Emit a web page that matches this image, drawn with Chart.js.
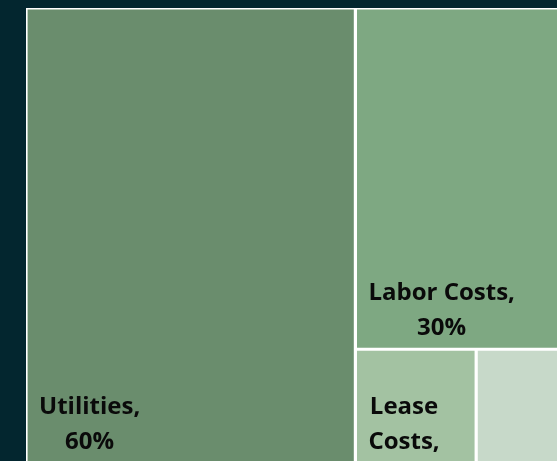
<!DOCTYPE html>
<html>
<head>
<meta charset="utf-8">
<script src="https://cdn.jsdelivr.net/npm/chart.js@4/dist/chart.umd.min.js"></script>
<style>
  html, body { margin: 0; padding: 0; overflow: hidden; background: #03262f; }
  #wrap { position: absolute; left: 0; top: 0; width: 575px; height: 463px; }
</style>
</head>
<body>
<div id="wrap"><canvas id="chart"></canvas></div>
<script>
// data
const categories = ['Utilities', 'Labor Costs', 'Lease Costs', 'Maintenance'];
const shares = [60, 30, 5.5, 4.5];
const shareLabels = shares.map(v => Math.round(v) + '%');

// squarified layout in value units (0..100 on both axes), k = pixel aspect w/h
function squarify(values, k) {
  const total = values.reduce((a, b) => a + b, 0);
  let rect = { x: 0, y: 0, w: 100 * k, h: 100 };
  const area = rect.w * rect.h;
  const items = values.map((v, i) => ({ i, a: v / total * area }));
  const out = [];
  const worst = (row, side) => {
    const s = row.reduce((a, r) => a + r.a, 0);
    const t = s / side;
    let m = 0;
    row.forEach(r => { const l = r.a / t; m = Math.max(m, t / l, l / t); });
    return m;
  };
  const layRow = (row) => {
    const s = row.reduce((a, r) => a + r.a, 0);
    if (rect.w >= rect.h) {
      const t = s / rect.h; let y = rect.y;
      row.forEach(r => { const h = r.a / t; out[r.i] = { x: rect.x, y, w: t, h }; y += h; });
      rect = { x: rect.x + t, y: rect.y, w: rect.w - t, h: rect.h };
    } else {
      const t = s / rect.w; let x = rect.x;
      row.forEach(r => { const w = r.a / t; out[r.i] = { x, y: rect.y, w, h: t }; x += w; });
      rect = { x: rect.x, y: rect.y + t, w: rect.w, h: rect.h - t };
    }
  };
  let row = [], n = 0;
  while (n < items.length) {
    const side = Math.min(rect.w, rect.h);
    if (!row.length || worst(row.concat(items[n]), side) <= worst(row, side)) { row.push(items[n]); n++; }
    else { layRow(row); row = []; }
  }
  if (row.length) layRow(row);
  return out.map(c => ({ x: c.x / k, y: c.y, w: c.w / k, h: c.h }));
}

class TreemapController extends Chart.DatasetController {
  static id = 'treemap';
  static defaults = { datasetElementType: false, dataElementType: 'bar' };

  update(mode) {
    const meta = this._cachedMeta;
    this.updateElements(meta.data, 0, meta.data.length, mode);
  }

  updateElements(rects, start, count, mode) {
    const xs = this._cachedMeta.xScale, ys = this._cachedMeta.yScale;
    const cells = squarify(this.getDataset().data, xs.width / ys.height);
    for (let i = start; i < start + count; i++) {
      const c = cells[i];
      const left = xs.getPixelForValue(c.x), right = xs.getPixelForValue(c.x + c.w);
      const top = ys.getPixelForValue(c.y), bottom = ys.getPixelForValue(c.y + c.h);
      this.updateElement(rects[i], i, {
        x: (left + right) / 2, width: right - left, y: top, base: bottom,
        horizontal: false, borderSkipped: {}, enableBorderRadius: false, inflateAmount: 0,
        options: this.resolveDataElementOptions(i, mode)
      }, mode);
    }
  }
}
Chart.register(TreemapController);

// white backing so the shared cell borders stay solid
const areaBacking = {
  id: 'areaBacking',
  beforeDatasetsDraw(chart) {
    const { ctx, chartArea: a } = chart;
    ctx.save();
    ctx.fillStyle = '#ffffff';
    ctx.fillRect(a.left, a.top, a.right - a.left, a.bottom - a.top);
    ctx.restore();
  }
};

// cell labels: "name," wrapped to the cell, then the share
const cellLabels = {
  id: 'cellLabels',
  afterDatasetsDraw(chart) {
    const ctx = chart.ctx;
    const pad = 12;
    ctx.save();
    ctx.font = 'bold 24px "Open Sans"';
    ctx.fillStyle = '#0a0a0a';
    ctx.textAlign = 'center';
    ctx.textBaseline = 'alphabetic';
    chart.getDatasetMeta(0).data.forEach((el, i) => {
      const { x, y, base, width } = el.getProps(['x', 'y', 'base', 'width']);
      const left = x - width / 2;
      const maxW = width - pad * 2;
      const words = (categories[i] + ',').split(' ');
      const lines = [];
      let cur = '';
      words.forEach(w => {
        const test = cur ? cur + ' ' + w : w;
        if (ctx.measureText(test).width <= maxW || !cur) cur = test;
        else { lines.push(cur); cur = w; }
      });
      lines.push(cur, shareLabels[i]);
      const widths = lines.map(l => ctx.measureText(l).width);
      if (Math.max(...widths) > maxW) return;
      const cx = left + pad + 1 + Math.max(...widths) / 2;
      ctx.save();
      ctx.beginPath();
      ctx.rect(left, y, width, base - y);
      ctx.clip();
      lines.forEach((l, k) => ctx.fillText(l, cx, base - 49 + k * 35));
      ctx.restore();
    });
    ctx.restore();
  }
};

new Chart(document.getElementById('chart'), {
  type: 'treemap',
  data: {
    labels: categories,
    datasets: [{
      data: shares,
      backgroundColor: ['#6a8d6d', '#7ea882', '#a3c2a2', '#c7d9c9'],
      borderColor: '#ffffff',
      borderWidth: 1.6
    }]
  },
  options: {
    responsive: true,
    maintainAspectRatio: false,
    animation: false,
    events: [],
    layout: { padding: { left: 26, top: 8, right: 0, bottom: 0 } },
    scales: {
      x: { type: 'linear', min: 0, max: 100, display: false },
      y: { type: 'linear', min: 0, max: 100, reverse: true, display: false }
    },
    plugins: { legend: { display: false }, tooltip: { enabled: false } }
  },
  plugins: [areaBacking, cellLabels]
});
</script>
</body>
</html>
